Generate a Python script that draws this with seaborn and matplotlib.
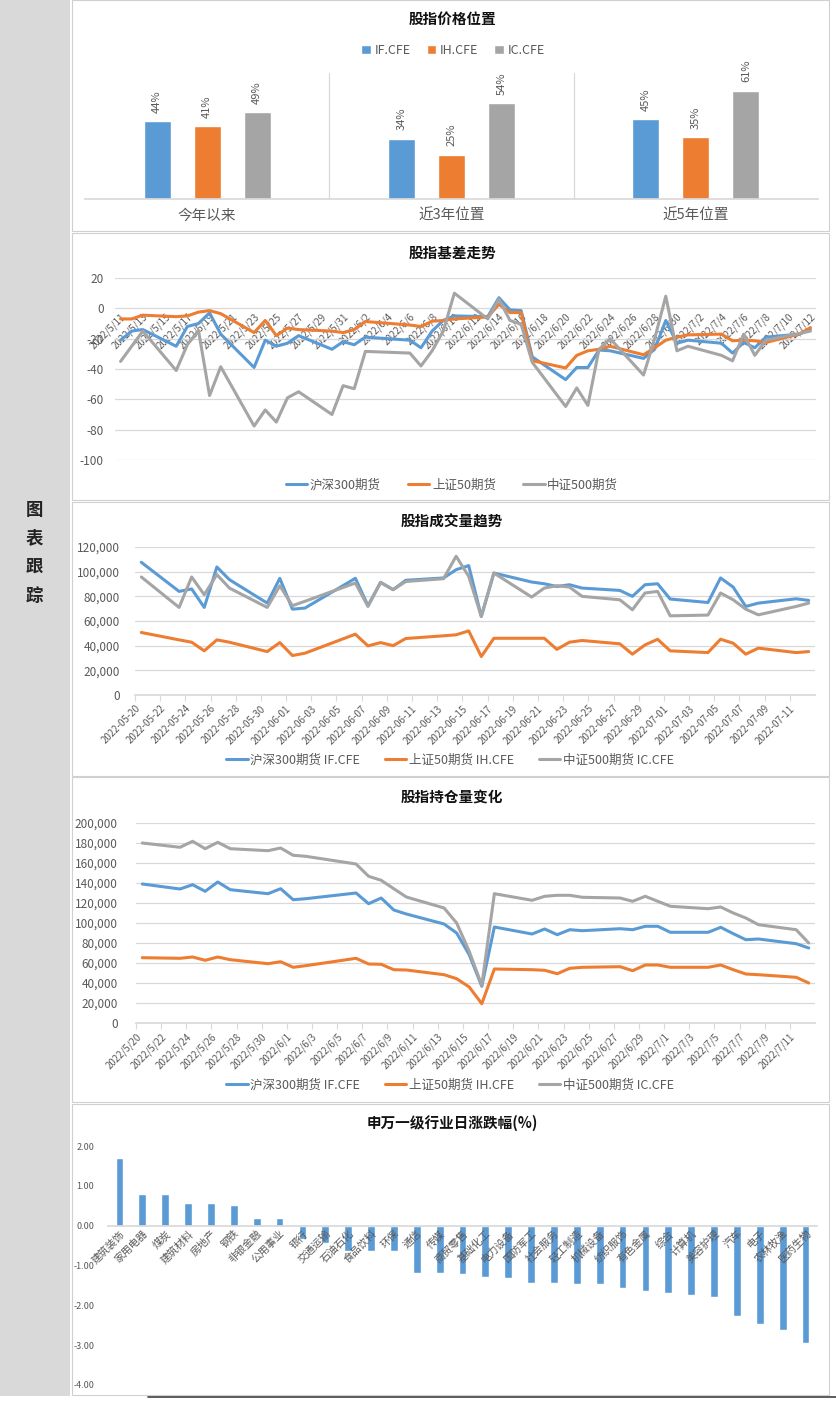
import matplotlib
matplotlib.use("Agg")
import matplotlib.pyplot as plt
import matplotlib.ticker as mticker
from matplotlib.patches import Rectangle
import seaborn as sns
import pandas as pd
import numpy as np

# ---------------- data ----------------
periods = ["今年以来", "近3年位置", "近5年位置"]
contracts = ["IF.CFE", "IH.CFE", "IC.CFE"]
pos_if = [44, 34, 45]
pos_ih = [41, 25, 35]
pos_ic = [49, 54, 61]

basis_dates = ["2022-05-11", "2022-05-12", "2022-05-13", "2022-05-16", "2022-05-17", "2022-05-18",
               "2022-05-19", "2022-05-20", "2022-05-23", "2022-05-24", "2022-05-25", "2022-05-26",
               "2022-05-27", "2022-05-30", "2022-05-31", "2022-06-01", "2022-06-02", "2022-06-06",
               "2022-06-07", "2022-06-08", "2022-06-09", "2022-06-10", "2022-06-13", "2022-06-14",
               "2022-06-15", "2022-06-16", "2022-06-17", "2022-06-20", "2022-06-21", "2022-06-22",
               "2022-06-23", "2022-06-24", "2022-06-27", "2022-06-28", "2022-06-29", "2022-06-30",
               "2022-07-01", "2022-07-04", "2022-07-05", "2022-07-06", "2022-07-07", "2022-07-08",
               "2022-07-11", "2022-07-12"]
basis_if = [-21, -15, -14, -25, -12, -10, -3, -17, -39, -21, -25, -23, -18, -27, -22, -24, -19, -21,
            -26, -15, -8, -5, -5.5, 7, -1, -1.5, -32, -47, -39, -39, -27.5, -28, -33, -27, -8, -23,
            -21, -23, -29.5, -22.5, -26, -19, -17, -14]
basis_ih = [-7, -7, -4.5, -5.5, -5, -2.5, -1.5, -3.5, -16, -8, -18, -13, -14, -15, -16, -14, -8.7, -11,
            -12, -8.5, -8, -7, -5.7, 2.6, -2.8, -2.8, -34.5, -39.3, -31, -28, -27, -25, -30.6, -26, -21,
            -19, -17.5, -17, -21.4, -21, -21.4, -22.5, -17, -12.7]
basis_ic = [-35, -25, -15, -41, -24, -14.5, -57.5, -38.5, -77.6, -67, -75, -59, -55, -70, -51, -53,
            -28.4, -29.5, -38, -28, -15, 10, -7, 6, -8, -10.5, -35.6, -64.7, -52.5, -64, -27, -20, -44,
            -20, 8, -28, -25, -31, -34.6, -17, -31, -21, -16.6, -15]

trade_dates = ["2022-05-20", "2022-05-23", "2022-05-24", "2022-05-25", "2022-05-26", "2022-05-27",
               "2022-05-30", "2022-05-31", "2022-06-01", "2022-06-02", "2022-06-06", "2022-06-07",
               "2022-06-08", "2022-06-09", "2022-06-10", "2022-06-13", "2022-06-14", "2022-06-15",
               "2022-06-16", "2022-06-17", "2022-06-20", "2022-06-21", "2022-06-22", "2022-06-23",
               "2022-06-24", "2022-06-27", "2022-06-28", "2022-06-29", "2022-06-30", "2022-07-01",
               "2022-07-04", "2022-07-05", "2022-07-06", "2022-07-07", "2022-07-08", "2022-07-11",
               "2022-07-12"]
vol_if = [107600, 84000, 86000, 71000, 103800, 93500, 74500, 94600, 69600, 70500, 94600, 72400, 91300,
          85400, 93000, 94900, 101600, 104900, 63700, 98900, 91600, 90200, 88000, 89400, 86700, 84800,
          80000, 89400, 90200, 77800, 75000, 94900, 87500, 71800, 74500, 78000, 76700]
vol_ih = [50700, 44700, 42800, 35800, 44700, 42800, 35200, 42500, 32000, 33900, 49300, 39800, 42500,
          40000, 45800, 48000, 48800, 52000, 31200, 46000, 46000, 46000, 37000, 42800, 44200, 41500,
          33100, 40600, 45200, 35800, 34400, 45200, 42000, 33100, 38000, 34400, 35200]
vol_ic = [95700, 71000, 95700, 81300, 97600, 86700, 71000, 88600, 72400, 76000, 90800, 71800, 91300,
          85400, 92000, 94300, 112500, 96200, 63700, 98900, 79400, 86700, 88600, 87500, 80000, 77200,
          69100, 82700, 84000, 64200, 64800, 82700, 77200, 69600, 65000, 71800, 74500]

oi_if = [139000, 134000, 138300, 131700, 141000, 133300, 129300, 134300, 123300, 124300, 130000, 119300,
         125000, 113000, 109000, 99000, 90000, 68300, 36700, 96000, 89000, 94000, 88300, 93300, 92300,
         94300, 93300, 96700, 96700, 90700, 90700, 95700, 89300, 83300, 84000, 79300, 75000]
oi_ih = [65300, 64700, 66000, 62700, 66000, 63300, 59300, 61300, 55700, 57300, 64700, 59000, 58700,
         53300, 53000, 48300, 44300, 36000, 19300, 54000, 53300, 52700, 49300, 54700, 55700, 56300,
         52300, 58000, 58000, 55700, 55700, 58000, 53300, 49000, 48300, 45700, 40000]
oi_ic = [180000, 175700, 181700, 174300, 180700, 174300, 172300, 175000, 167700, 166700, 159000, 146700,
         142700, 134300, 126000, 115000, 100000, 71700, 37700, 129300, 122700, 126700, 127700, 127700,
         125700, 125000, 121700, 126700, 121700, 116700, 114300, 116000, 110000, 105000, 98300, 93300,
         80000]

industries = ["建筑装饰", "家用电器", "煤炭", "建筑材料", "房地产", "钢铁", "非银金融", "公用事业", "银行",
              "交通运输", "石油石化", "食品饮料", "环保", "通信", "传媒", "商贸零售", "基础化工", "电力设备",
              "国防军工", "社会服务", "轻工制造", "机械设备", "纺织服饰", "有色金属", "综合", "计算机",
              "美容护理", "汽车", "电子", "农林牧渔", "医药生物"]
ind_chg = [1.70, 0.80, 0.80, 0.58, 0.56, 0.52, 0.20, 0.20, -0.33, -0.43, -0.64, -0.64, -0.64, -1.20,
           -1.20, -1.22, -1.28, -1.31, -1.45, -1.45, -1.47, -1.47, -1.57, -1.63, -1.69, -1.74, -1.78,
           -2.26, -2.46, -2.61, -2.94]

# ---------------- style ----------------
sns.set_theme(style="white")
plt.rcParams["font.family"] = ["Noto Sans CJK SC", "DejaVu Sans"]
plt.rcParams["axes.unicode_minus"] = False

BLUE, ORANGE, GRAY = "#5B9BD5", "#ED7D31", "#A5A5A5"
PAL = [BLUE, ORANGE, GRAY]
TXT = "#595959"
GRID = "#d9d9d9"

W, H = 836, 1404
fig = plt.figure(figsize=(W / 100, H / 100), dpi=100)
fig.patch.set_facecolor("white")


def px_axes(x0, y0, x1, y1):
    return fig.add_axes([x0 / W, 1 - y1 / H, (x1 - x0) / W, (y1 - y0) / H])


def ftext(x, y, s, **kw):
    fig.text(x / W, 1 - y / H, s, ha="center", va="center", **kw)


def fbox(x0, y0, x1, y1, **kw):
    fig.patches.append(Rectangle((x0 / W, 1 - y1 / H), (x1 - x0) / W, (y1 - y0) / H,
                                 transform=fig.transFigure, zorder=-10, **kw))


def long_df(dates, series):
    frames = [pd.DataFrame({"date": pd.to_datetime(dates), "value": v, "series": k})
              for k, v in series.items()]
    return pd.concat(frames, ignore_index=True)


def move_legend(ax, x, y, **kw):
    leg = ax.get_legend()
    handles = leg.legend_handles
    labels = [t.get_text() for t in leg.get_texts()]
    leg.remove()
    fig.legend(handles, labels, loc="center", bbox_to_anchor=(x / W, 1 - y / H), ncol=3,
               frameon=False, labelcolor=TXT, **kw)


def line_axes_style(ax, ymin, ymax, step, fmt, ypad):
    ax.set_ylim(ymin, ymax)
    ax.set_yticks(np.arange(ymin, ymax + step / 2, step))
    ax.yaxis.set_major_formatter(mticker.StrMethodFormatter(fmt))
    ax.grid(axis="y", color=GRID, lw=0.9)
    ax.grid(axis="x", visible=False)
    for s in ["top", "right", "left"]:
        ax.spines[s].set_visible(False)
    ax.tick_params(axis="y", length=0, labelsize=8.5, labelcolor=TXT, pad=ypad)
    ax.set_xlabel("")
    ax.set_ylabel("")
    ax.set_facecolor("none")


# ---------------- background / frames ----------------
fbox(0, 0, 70, 1396, facecolor="#d9d9d9", edgecolor="none")
for (y0, y1) in [(0, 231), (233, 500), (502, 776), (777, 1102), (1104, 1395)]:
    fbox(72, y0, 829, y1, facecolor="white", edgecolor="#d0d0d0", lw=0.8)
fig.add_artist(plt.Line2D([148 / W, 1], [1 - 1397 / H] * 2, color="#404040", lw=1.2,
                          transform=fig.transFigure))
for i, ch in enumerate("图表跟踪"):
    ftext(34, 510 + i * 28.5, ch, fontsize=12.5, fontweight="bold", color="#222222")

# ---------------- panel 1: price position ----------------
df1 = pd.DataFrame({"period": periods * 3,
                    "contract": np.repeat(contracts, 3),
                    "value": pos_if + pos_ih + pos_ic})
ax1 = px_axes(85, 73, 818, 199)
sns.barplot(df1, x="period", y="value", hue="contract", hue_order=contracts, palette=PAL,
            saturation=1, width=0.615, gap=0.46, ax=ax1)
ax1.set_ylim(0, 71)
ax1.set_xlim(-0.5, 2.5)
for c in ax1.containers:
    ax1.bar_label(c, fmt="%d%%", rotation=90, padding=6, color=TXT, fontsize=8)
for xv in [0.5, 1.5]:
    ax1.axvline(xv, color=GRID, lw=0.9)
for s in ["top", "right", "left"]:
    ax1.spines[s].set_visible(False)
ax1.spines["bottom"].set_color(GRID)
ax1.set_yticks([])
ax1.set_xlabel("")
ax1.set_ylabel("")
ax1.set_facecolor("none")
ax1.tick_params(axis="x", length=0, labelsize=10.5, labelcolor=TXT, pad=7)
move_legend(ax1, 453, 50, fontsize=9, handlelength=0.75, handleheight=0.75, handletextpad=0.3,
            columnspacing=1.3)
ftext(452, 19, "股指价格位置", fontsize=10.5, fontweight="bold", color="#111111")

# ---------------- panel 2: basis ----------------
names2 = ["沪深300期货", "上证50期货", "中证500期货"]
df2 = long_df(basis_dates, dict(zip(names2, [basis_if, basis_ih, basis_ic])))
ax2 = px_axes(115, 278, 816, 460)
sns.lineplot(df2, x="date", y="value", hue="series", hue_order=names2, palette=PAL, lw=2.2, ax=ax2)
line_axes_style(ax2, -100, 20, 20, "{x:.0f}", 8)
d0, d1 = pd.Timestamp("2022-05-11"), pd.Timestamp("2022-07-12")
half = pd.Timedelta(hours=12)
ax2.set_xlim(d0 - half, d1 + half)
t2 = pd.date_range("2022-05-11", "2022-07-12", freq="2D")
ax2.set_xticks(t2, labels=[f"{d.year}/{d.month}/{d.day}" for d in t2])
ax2.spines["bottom"].set_position(("data", 0))
ax2.spines["bottom"].set_visible(False)
ax2.tick_params(axis="x", length=0, labelsize=7, labelcolor=TXT, pad=2)
plt.setp(ax2.get_xticklabels(), rotation=45, ha="right", va="top", rotation_mode="anchor")
move_legend(ax2, 452, 485, fontsize=9, handlelength=1.7, handletextpad=0.2, columnspacing=2.2)
ftext(452, 253, "股指基差走势", fontsize=10.5, fontweight="bold", color="#111111")

# ---------------- panel 3: volume ----------------
names3 = ["沪深300期货 IF.CFE", "上证50期货 IH.CFE", "中证500期货 IC.CFE"]
t0, t1 = pd.Timestamp("2022-05-20"), pd.Timestamp("2022-07-12")
t_ticks = pd.date_range("2022-05-20", "2022-07-11", freq="2D")

df3 = long_df(trade_dates, dict(zip(names3, [vol_if, vol_ih, vol_ic])))
ax3 = px_axes(135, 547, 815, 695)
sns.lineplot(df3, x="date", y="value", hue="series", hue_order=names3, palette=PAL, lw=2.2, ax=ax3)
line_axes_style(ax3, 0, 120000, 20000, "{x:,.0f}", 11)
ax3.set_xlim(t0 - half, t1 + half)
ax3.set_xticks(t_ticks - half, labels=[d.strftime("%Y-%m-%d") for d in t_ticks])
ax3.spines["bottom"].set_color(GRID)
ax3.tick_params(axis="x", bottom=True, length=4, width=0.8, color=GRID, labelsize=7,
                labelcolor=TXT, pad=2)
plt.setp(ax3.get_xticklabels(), rotation=45, ha="right", va="top", rotation_mode="anchor")
move_legend(ax3, 450, 760, fontsize=9, handlelength=1.7, handletextpad=0.2, columnspacing=2.0)
ftext(452, 522, "股指成交量趋势", fontsize=10.5, fontweight="bold", color="#111111")

# ---------------- panel 4: open interest ----------------
df4 = long_df(trade_dates, dict(zip(names3, [oi_if, oi_ih, oi_ic])))
ax4 = px_axes(136, 823, 815, 1023)
sns.lineplot(df4, x="date", y="value", hue="series", hue_order=names3, palette=PAL, lw=2.2, ax=ax4)
line_axes_style(ax4, 0, 200000, 20000, "{x:,.0f}", 13)
ax4.set_xlim(t0 - half, t1 + half)
ax4.set_xticks(t_ticks - half, labels=[f"{d.year}/{d.month}/{d.day}" for d in t_ticks])
ax4.spines["bottom"].set_color(GRID)
ax4.tick_params(axis="x", bottom=True, length=4, width=0.8, color=GRID, labelsize=7,
                labelcolor=TXT, pad=2)
plt.setp(ax4.get_xticklabels(), rotation=45, ha="right", va="top", rotation_mode="anchor")
move_legend(ax4, 450, 1085, fontsize=9, handlelength=1.7, handletextpad=0.2, columnspacing=2.0)
ftext(452, 797, "股指持仓量变化", fontsize=10.5, fontweight="bold", color="#111111")

# ---------------- panel 5: industry change ----------------
ax5 = px_axes(108, 1146, 817, 1385)
sns.barplot(x=industries, y=ind_chg, color=BLUE, saturation=1, width=0.34, ax=ax5)
ax5.set_axisbelow(False)  # category labels sit on top of the bars
ax5.set_ylim(-4, 2)
ax5.set_yticks(np.arange(-4, 2.01, 1))
ax5.yaxis.set_major_formatter(mticker.StrMethodFormatter("{x:.2f}"))
for s in ["top", "right", "left"]:
    ax5.spines[s].set_visible(False)
ax5.spines["bottom"].set_position(("data", 0))
ax5.spines["bottom"].set_color(GRID)
ax5.tick_params(axis="y", length=0, labelsize=6.5, labelcolor=TXT, pad=10)
ax5.tick_params(axis="x", length=0, labelsize=7.5, labelcolor=TXT, pad=2)
plt.setp(ax5.get_xticklabels(), rotation=45, ha="right", va="top", rotation_mode="anchor")
ax5.set_facecolor("none")
ftext(452, 1123, "申万一级行业日涨跌幅(%)", fontsize=10.5, fontweight="bold", color="#111111")

fig.savefig("out.png", dpi=100)
